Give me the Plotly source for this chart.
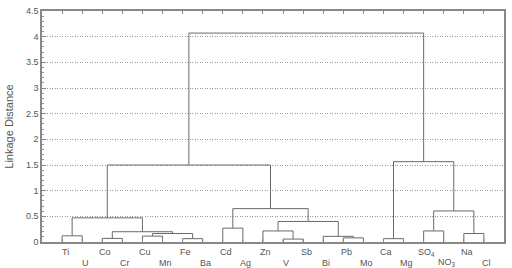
import plotly.graph_objects as go

leaf_labels = ["Ti", "U", "Co", "Cr", "Cu", "Mn", "Fe", "Ba", "Cd", "Ag", "Zn",
               "V", "Sb", "Bi", "Pb", "Mo", "Ca", "Mg", "SO<sub>4</sub>",
               "NO<sub>3</sub>", "Na", "Cl"]

# Linkage: node ids 0..21 are leaves, 22+ are merged clusters in order
merge_left = [0, 2, 4, 6, 24, 23, 22, 8, 11, 10, 14, 13, 31, 29, 28, 16, 18, 20, 38, 37, 36]
merge_right = [1, 3, 5, 7, 25, 26, 27, 9, 12, 30, 15, 32, 33, 34, 35, 17, 19, 21, 39, 40, 41]
merge_height = [0.12, 0.07, 0.115, 0.065, 0.165, 0.20, 0.47, 0.27, 0.057, 0.215,
                0.08, 0.11, 0.40, 0.65, 1.50, 0.065, 0.215, 0.165, 0.605, 1.565, 4.07]

n = len(leaf_labels)
pos = {i: i + 1 for i in range(n)}
hgt = {i: 0.0 for i in range(n)}
xs, ys = [], []
for k, (a, b, h) in enumerate(zip(merge_left, merge_right, merge_height)):
    xa, xb = pos[a], pos[b]
    xs += [xa, xa, xb, xb, None]
    ys += [hgt[a], h, h, hgt[b], None]
    pos[n + k] = (xa + xb) / 2
    hgt[n + k] = h

LINE = "#6a6a6a"
TXT = "#555555"
FONT = "Liberation Sans, Arial, sans-serif"

fig = go.Figure()
fig.add_trace(go.Scatter(x=xs, y=ys, mode="lines",
                         line=dict(color=LINE, width=1), hoverinfo="skip",
                         showlegend=False))

annotations = []
for i, lab in enumerate(leaf_labels):
    annotations.append(dict(x=i + 1, y=0, xref="x", yref="paper", text=lab,
                            showarrow=False, xanchor="center", yanchor="middle",
                            xshift=3, yshift=-10 if i % 2 == 0 else -20.5,
                            font=dict(size=9, color=TXT, family=FONT)))

fig.update_layout(
    width=512, height=268,
    margin=dict(l=42, r=7, t=6, b=26),
    paper_bgcolor="white", plot_bgcolor="white",
    font=dict(family=FONT, color=TXT, size=9),
    annotations=annotations,
    xaxis=dict(range=[0, n + 1], tickvals=list(range(1, n + 1)),
               showticklabels=False, ticks="inside", ticklen=3,
               tickcolor="#888888", showgrid=False, zeroline=False,
               showline=True, linecolor="#888888", linewidth=1.5,
               mirror="ticks"),
    yaxis=dict(range=[0, 4.5], dtick=0.5, ticks="inside", ticklen=4,
               tickcolor="#888888", showline=True, linecolor="#888888",
               linewidth=1.5, mirror=True, zeroline=False,
               showgrid=True, gridcolor="#9a9a9a", griddash="1px,1.5px",
               gridwidth=1,
               tickfont=dict(size=9, color=TXT),
               minor=dict(dtick=0.1, ticks="inside", ticklen=2,
                          tickcolor="#999999", showgrid=False),
               title=dict(text="Linkage Distance", standoff=10,
                          font=dict(size=11, color=TXT))),
)

fig.write_html("out.html")
